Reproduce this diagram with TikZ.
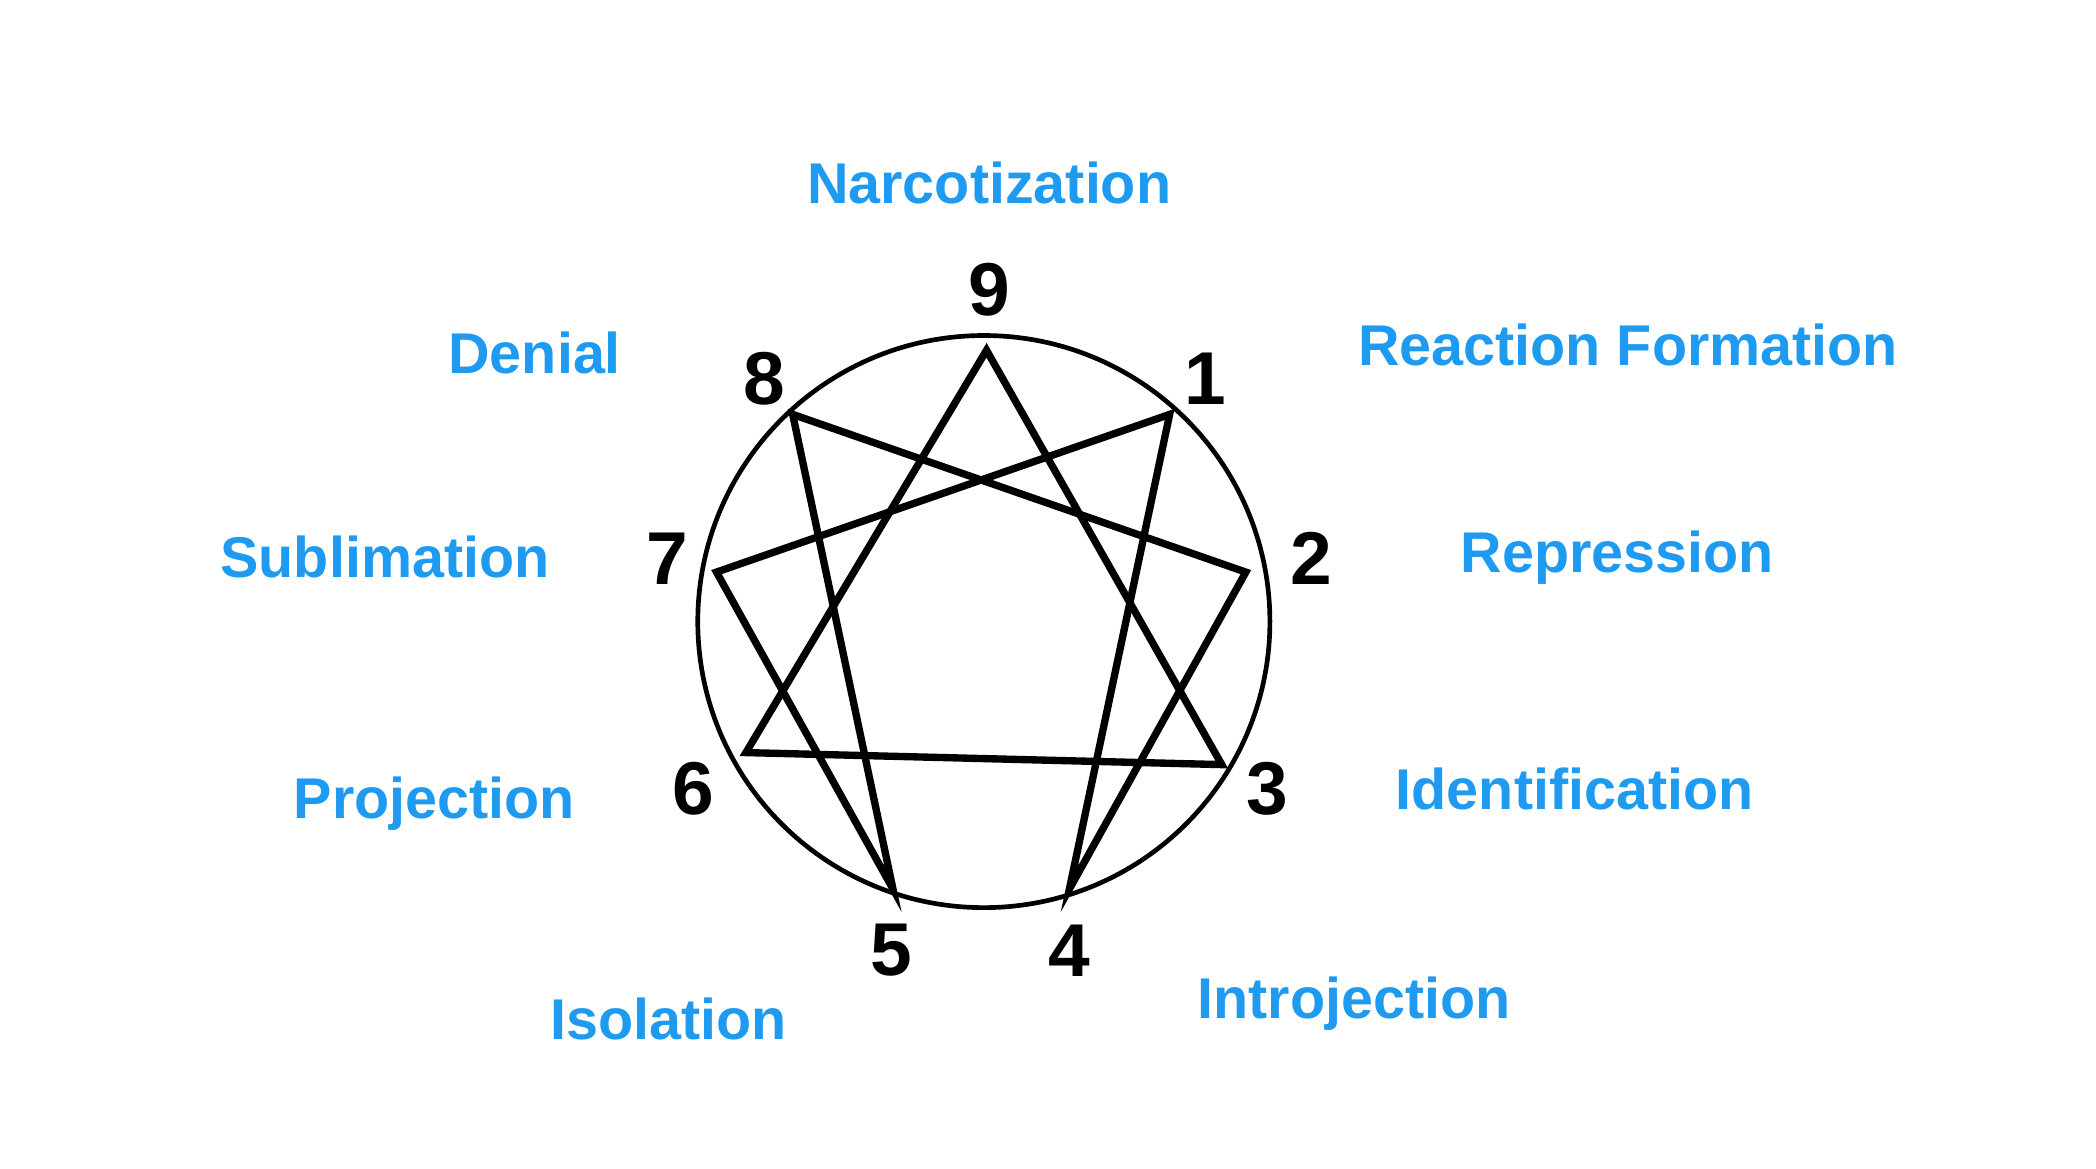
\documentclass[tikz,border=0pt]{standalone}
\usepackage{fontspec}
\setmainfont{Liberation Sans}
\definecolor{lblue}{HTML}{1E9BF0}
\begin{document}
\begin{tikzpicture}[x=1pt,y=-1pt,
  lbl/.style={text=lblue,font=\fontsize{43}{48}\selectfont\bfseries,inner sep=0pt},
  num/.style={text=black,font=\fontsize{56}{60}\selectfont\bfseries,inner sep=0pt},
  star/.style={line width=5.5pt,line join=miter}]
\useasboundingbox (0,0) rectangle (1568,874);
\node[circle,draw,line width=3.5pt,minimum size=428pt,inner sep=0pt] (c) at (736,465) {};
\coordinate (p9) at (738,262);
\coordinate (p3) at (914,572);
\coordinate (p6) at (558,563);
\coordinate (p1) at (875,310);
\coordinate (p4) at (800,665);
\coordinate (p2) at (932,428);
\coordinate (p8) at (593,310);
\coordinate (p5) at (668,665);
\coordinate (p7) at (536,428);
\draw[star] (p9) -- (p3) -- (p6) -- cycle;
\draw[star] (p1) -- (p4) -- (p2) -- (p8) -- (p5) -- (p7) -- cycle;
\node[num] (n9) at (740,217) {9};
\node[num] (n8) at (572,283) {8};
\node[num] (n1) at (902,283) {1};
\node[num] (n7) at (499,418) {7};
\node[num] (n2) at (981,418) {2};
\node[num] (n6) at (519,590) {6};
\node[num] (n3) at (948,590) {3};
\node[num] (n5) at (667,711) {5};
\node[num] (n4) at (800,711) {4};
\node[lbl] (l9) at (740,137) {Narcotization};
\node[lbl] (l8) at (400,264) {Denial};
\node[lbl] (l1) at (1218,258) {Reaction Formation};
\node[lbl] (l7) at (288,417) {Sublimation};
\node[lbl] (l2) at (1210,417) {Repression};
\node[lbl] (l6) at (325,601) {Projection};
\node[lbl] (l3) at (1178,590) {Identification};
\node[lbl] (l5) at (500,762) {Isolation};
\node[lbl] (l4) at (1013,751) {Introjection};
\end{tikzpicture}
\end{document}
